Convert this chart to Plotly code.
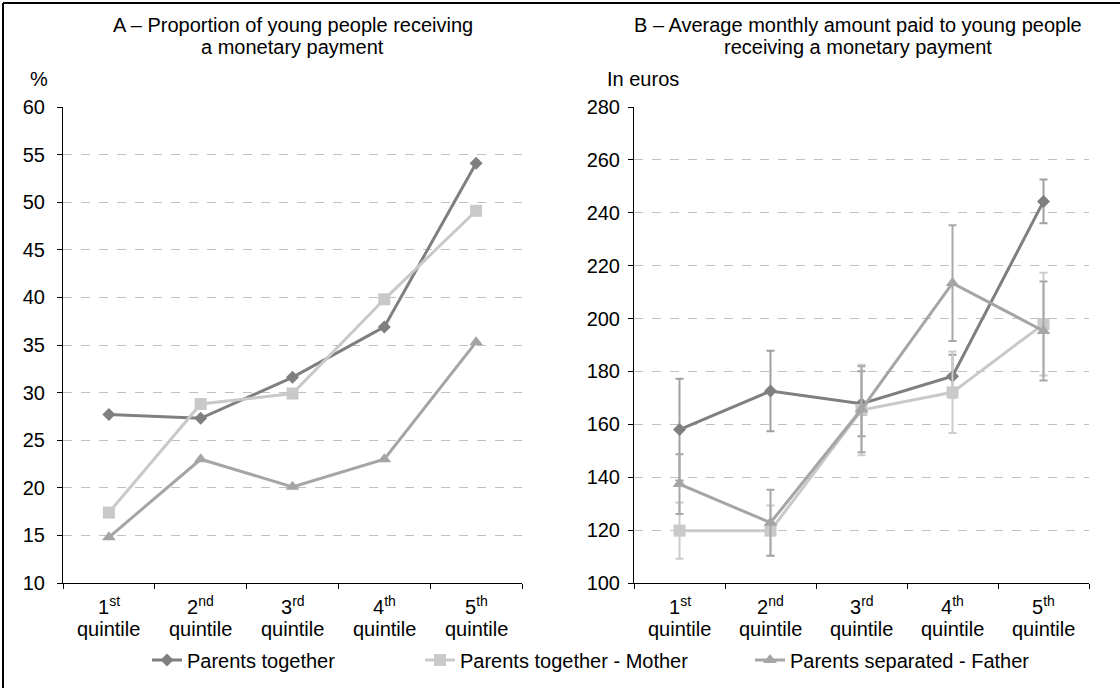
import plotly.graph_objects as go

# ---- data -------------------------------------------------------------
quintiles = ["1st", "2nd", "3rd", "4th", "5th"]
ordinal_num = ["1", "2", "3", "4", "5"]
ordinal_suffix = ["st", "nd", "rd", "th", "th"]
series_names = ["Parents together", "Parents together - Mother", "Parents separated - Father"]

# Panel A: share of young people receiving a monetary payment (%)
share_together = [27.7, 27.3, 31.6, 36.9, 54.1]
share_mother = [17.4, 28.8, 29.9, 39.8, 49.1]
share_father = [14.8, 23.0, 20.1, 23.0, 35.3]

# Panel B: average monthly amount (euros) with confidence half-widths
amount_together = [158.0, 172.6, 167.8, 178.2, 244.3]
amount_together_err = [19.2, 15.2, 12.3, 8.1, 8.3]
amount_mother = [119.8, 119.8, 165.4, 172.1, 197.9]
amount_mother_err = [10.6, 9.5, 17.1, 15.4, 19.4]
amount_father = [137.4, 122.8, 165.7, 213.4, 195.3]
amount_father_err = [11.3, 12.5, 16.3, 21.9, 18.7]

# ---- styling ----------------------------------------------------------
FONT = "Liberation Sans, Arial, sans-serif"
FS = 20
W, H = 1120, 688
line_cols = ["#7f7f7f", "#c9c9c9", "#a5a5a5"]
err_cols = ["#a0a0a0", "#cccccc", "#a8a8a8"]
symbols = ["diamond", "square", "triangle-up"]
msizes = [10, 12, 12]
legend_ids = ["legend", "legend2", "legend3"]
legend_x = [147, 420, 750]


def py(px):
    """pixel row -> paper y"""
    return 1 - px / H


fig = go.Figure()

share_sets = [share_together, share_mother, share_father]
amount_sets = [amount_together, amount_mother, amount_father]
err_sets = [amount_together_err, amount_mother_err, amount_father_err]

for i, name in enumerate(series_names):
    fig.add_trace(go.Scatter(
        x=quintiles, y=share_sets[i], name=name, mode="lines+markers",
        line=dict(color=line_cols[i], width=3),
        marker=dict(symbol=symbols[i], size=msizes[i], color=line_cols[i]),
        xaxis="x", yaxis="y", legend=legend_ids[i], legendgroup=name, showlegend=True,
    ))

for i, name in enumerate(series_names):
    fig.add_trace(go.Scatter(
        x=quintiles, y=amount_sets[i], name=name, mode="lines+markers",
        line=dict(color=line_cols[i], width=3),
        marker=dict(symbol=symbols[i], size=msizes[i], color=line_cols[i]),
        error_y=dict(type="data", array=err_sets[i], visible=True,
                     color=err_cols[i], thickness=2, width=4),
        xaxis="x2", yaxis="y2", legendgroup=name, showlegend=False,
    ))

xcommon = dict(
    type="category", categoryorder="array", categoryarray=quintiles,
    range=[-0.5, 4.5], showticklabels=False, tickson="boundaries",
    ticks="outside", ticklen=5, tickcolor="black", showline=True,
    linecolor="black", linewidth=1, showgrid=False, zeroline=False,
    automargin=False, fixedrange=True,
)
ycommon = dict(
    ticks="outside", ticklen=5, tickcolor="black", showline=True,
    linecolor="black", linewidth=1, showgrid=True, gridcolor="#c0c0c0",
    griddash="dash", gridwidth=1, zeroline=False, automargin=False,
    tickfont=dict(family=FONT, size=FS, color="black"),
    domain=[py(583), py(107)],
)


def legend_box(xpx):
    return dict(orientation="h", x=xpx / W, xanchor="left", y=py(660), yanchor="middle",
                font=dict(family=FONT, size=FS, color="black"),
                bgcolor="rgba(0,0,0,0)")


fig.update_layout(
    width=W, height=H, template="none",
    margin=dict(l=0, r=0, t=0, b=0),
    paper_bgcolor="white", plot_bgcolor="white",
    font=dict(family=FONT, size=FS, color="black"),
    xaxis=dict(domain=[63 / W, 522 / W], **xcommon),
    xaxis2=dict(domain=[634 / W, 1089 / W], **xcommon),
    yaxis=dict(range=[10, 60], dtick=5, anchor="x", ticklabelstandoff=8, **ycommon),
    yaxis2=dict(range=[100, 280], dtick=20, anchor="x2", ticklabelstandoff=4, **ycommon),
    legend=legend_box(legend_x[0]),
    legend2=legend_box(legend_x[1]),
    legend3=legend_box(legend_x[2]),
    showlegend=True,
)

ann = []
# panel titles (two lines each)
ann += [
    dict(text="A – Proportion of young people receiving", x=292.5 / W, y=py(25)),
    dict(text="a monetary payment", x=292.5 / W, y=py(47)),
    dict(text="B – Average monthly amount paid to young people", x=858 / W, y=py(25)),
    dict(text="receiving a monetary payment", x=858 / W, y=py(47)),
]
for a in ann:
    a.update(xref="paper", yref="paper", xanchor="center", yanchor="middle",
             showarrow=False, font=dict(family=FONT, size=FS, color="black"))

# axis unit labels
for txt, xp in [("%", 28), ("In euros", 605)]:
    ann.append(dict(text=txt, x=xp / W, y=py(79), xref="paper", yref="paper",
                    xanchor="left", yanchor="middle", showarrow=False,
                    font=dict(family=FONT, size=FS, color="black")))

# category labels: ordinal on one row, "quintile" below
for xr in ["x", "x2"]:
    for q, n, s in zip(quintiles, ordinal_num, ordinal_suffix):
        ann.append(dict(text=f"{n}<sup>{s}</sup>", x=q, y=py(605), xref=xr, yref="paper",
                        xanchor="center", yanchor="middle", showarrow=False,
                        font=dict(family=FONT, size=FS, color="black")))
        ann.append(dict(text="quintile", x=q, y=py(629), xref=xr, yref="paper",
                        xanchor="center", yanchor="middle", showarrow=False,
                        font=dict(family=FONT, size=FS, color="black")))

fig.update_layout(annotations=ann)

# frame around the figure (left and top edges)
fig.add_shape(type="line", xref="paper", yref="paper", x0=3 / W, x1=3 / W, y0=0, y1=py(3),
              line=dict(color="black", width=2))
fig.add_shape(type="line", xref="paper", yref="paper", x0=3 / W, x1=1, y0=py(3), y1=py(3),
              line=dict(color="black", width=2))

fig.write_html("out.html")
